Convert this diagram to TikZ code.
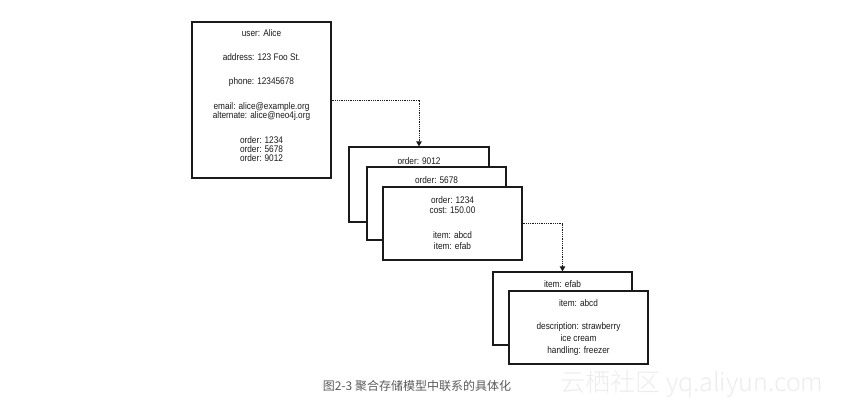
\documentclass[tikz,border=0pt]{standalone}
\usepackage{fontspec}
\setmainfont{Liberation Sans}
\newfontfamily\boxfont[FakeStretch=0.86]{Liberation Sans}
\newfontfamily\cjkfont{Noto Sans CJK SC}
\newfontfamily\wmfont{Noto Sans CJK SC Light}
\usetikzlibrary{arrows.meta}
\definecolor{ink}{HTML}{1A1A1A}
\definecolor{capgray}{HTML}{5A5A5A}
\definecolor{wmgray}{HTML}{ECECEC}
\tikzset{
  box/.style={draw=ink, line width=1.3pt, fill=white, inner sep=0pt},
  txt/.style={font=\boxfont\fontsize{9.6}{10}\selectfont, text=ink, inner sep=0pt, text height=6.8pt, text depth=1.9pt},
  link/.style={draw=ink, line width=1pt, dash pattern=on 1pt off 0.8pt, -{Triangle[width=5.5pt,length=5pt]}}
}
\begin{document}
\begin{tikzpicture}[x=1pt,y=-1pt]
\useasboundingbox (0,0) rectangle (842,407);
% user box
\node[box, minimum width=139pt, minimum height=156pt] (user) at (261.5,100) {};
\node[txt] (u1) at (261.5,34) {user: Alice};
\node[txt] (u2) at (261.5,58) {address: 123 Foo St.};
\node[txt] (u3) at (261.5,82) {phone: 12345678};
\node[txt] (u4) at (261.5,107) {email: alice@example.org};
\node[txt] (u5) at (261.5,116.5) {alternate: alice@neo4j.org};
\node[txt] (u6) at (261.5,141) {order: 1234};
\node[txt] (u7) at (261.5,150) {order: 5678};
\node[txt] (u8) at (261.5,159) {order: 9012};
% order boxes
\node[box, minimum width=140pt, minimum height=75pt] (o9012) at (419,184.5) {};
\node[txt] (o9t) at (419,162) {order: 9012};
\node[box, minimum width=139pt, minimum height=73pt] (o5678) at (436.5,203.5) {};
\node[txt] (o5t) at (436.5,181) {order: 5678};
\node[box, minimum width=139pt, minimum height=73pt] (o1234) at (452.5,223.5) {};
\node[txt] (o1a) at (452.5,201) {order: 1234};
\node[txt] (o1b) at (452.5,211.5) {cost: 150.00};
\node[txt] (o1c) at (452.5,236.5) {item: abcd};
\node[txt] (o1d) at (452.5,247) {item: efab};
% item boxes
\node[box, minimum width=139pt, minimum height=73pt] (iefab) at (562.5,308.5) {};
\node[txt] (iet) at (562.5,285) {item: efab};
\node[box, minimum width=139pt, minimum height=73pt] (iabcd) at (578.5,327.5) {};
\node[txt] (ia1) at (578.5,304) {item: abcd};
\node[txt] (ia2) at (578.5,327) {description: strawberry};
\node[txt] (ia3) at (578.5,339) {ice cream};
\node[txt] (ia4) at (578.5,351.5) {handling: freezer};
% connectors
\draw[link] (user.east) -| (o9012.north);
\draw[link] (o1234.east) -| (iefab.north);
% caption and watermark
\node[font=\cjkfont\fontsize{12}{14}\selectfont, text=capgray, inner sep=0pt] (cap) at (417,386) {图2-3 聚合存储模型中联系的具体化};
\node[font=\wmfont\fontsize{25}{28}\selectfont, text=wmgray, inner sep=0pt] (wm) at (692,384) {云栖社区 yq.aliyun.com};
\end{tikzpicture}
\end{document}
